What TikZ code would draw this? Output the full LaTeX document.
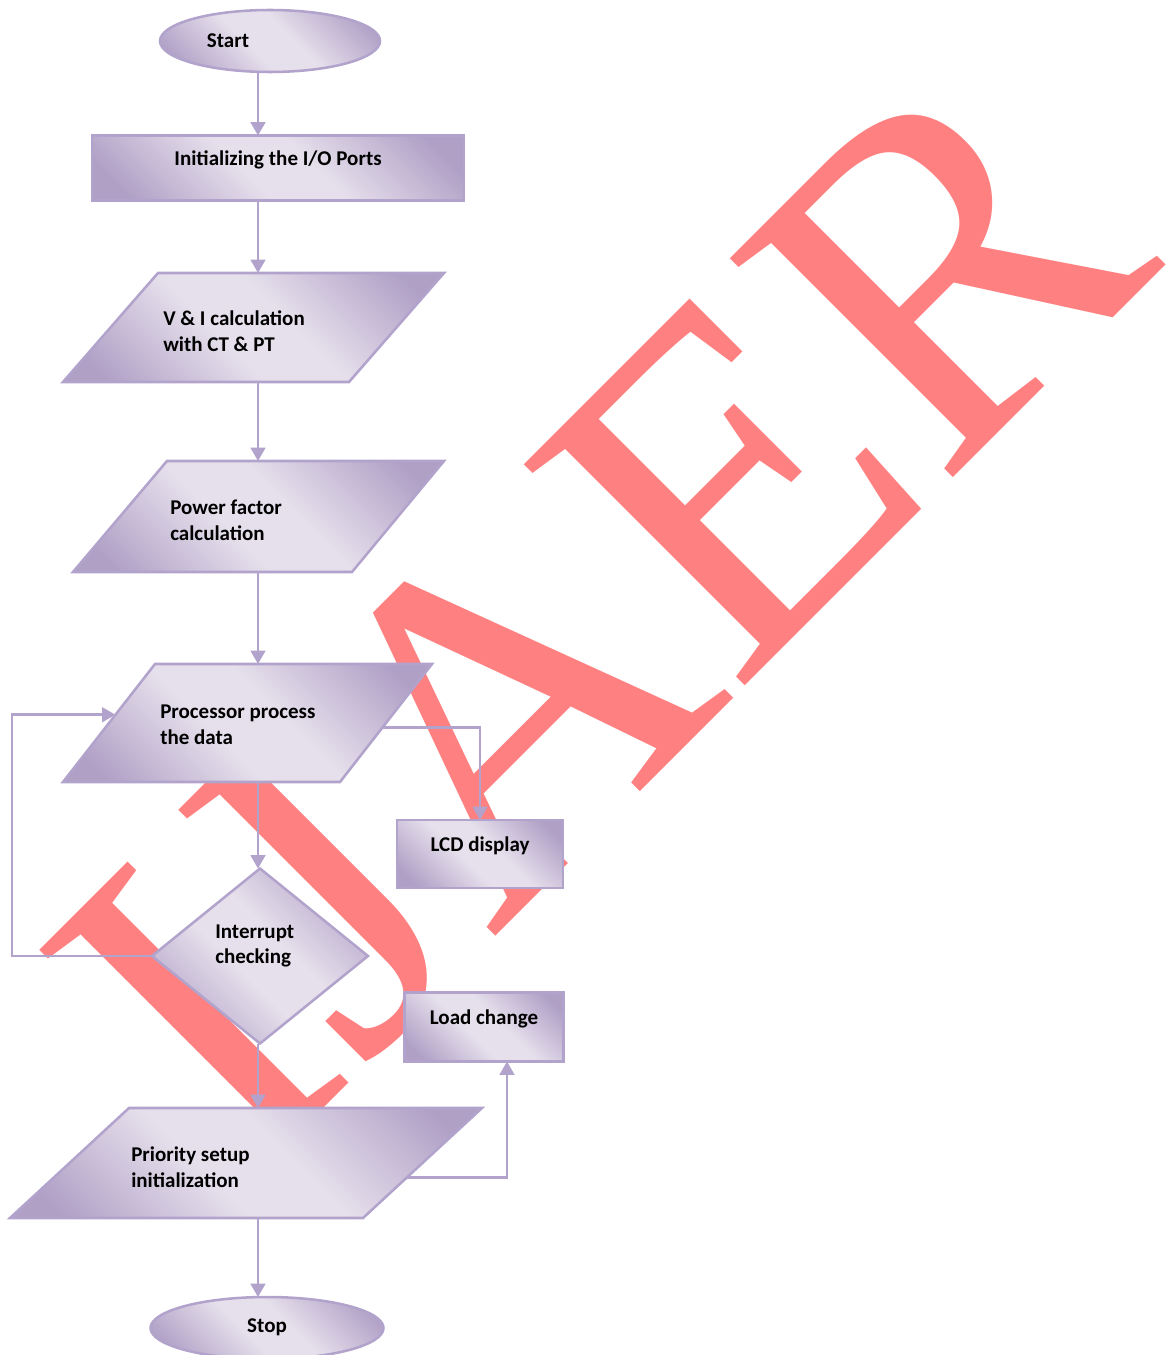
\documentclass[tikz,border=0pt]{standalone}
\usepackage{fontspec}
\setmainfont{Carlito}
\newfontfamily\wmfont{Liberation Serif}
\usetikzlibrary{shapes.geometric}
\usetikzlibrary{arrows.meta}
\usetikzlibrary{calc}
\definecolor{flowdark}{RGB}{176,160,198}
\definecolor{flowlight}{RGB}{230,224,236}
\definecolor{flowline}{RGB}{177,163,203}
\definecolor{wmred}{RGB}{255,128,128}
\pgfdeclarehorizontalshading{flowshade}{100bp}{color(0bp)=(flowdark); color(21bp)=(flowdark); color(44bp)=(flowlight); color(56bp)=(flowlight); color(79bp)=(flowdark); color(100bp)=(flowdark)}

\begin{document}
\begin{tikzpicture}[x=0.75pt,y=-0.75pt,
  blk/.style={draw=flowline,line width=1.9pt,shading=flowshade,shading angle=45,inner sep=0pt,outer sep=0pt},
  sz/.style 2 args={minimum width=.75*#1pt,minimum height=.75*#2pt},
  termbox/.style={blk,ellipse},
  rectbox/.style={blk,rectangle},
  decbox/.style={blk,diamond},
  lbl/.style={font=\bfseries\fontsize{15.75}{19.2}\selectfont,inner sep=0pt,align=left},
  flow/.style={draw=flowline,line width=1.9pt,-{Triangle[width=11pt,length=10pt]}}]
  \useasboundingbox (0,0) rectangle (1176,1355);

  % watermark behind the chart
  \node[rotate=45,text=wmred,font=\wmfont\fontsize{358}{358}\selectfont,inner sep=0pt] (wm) at (598,614) {IJAER};

  \coordinate (spine) at (258,0);
  \coordinate (loopx) at (12,0);

  \node[termbox,sz={220}{62}] (start) at (270,41) {};
  \node[rectbox,sz={372}{65}] (io) at (278,168) {};
  % parallelograms
  \path[blk] (158,273) coordinate (vi-tl) -- (444,273) coordinate (vi-tr)
    -- (349,382) coordinate (vi-br) -- (63,382) coordinate (vi-bl) -- cycle;
  \path[blk] (167,461) coordinate (pf-tl) -- (444,461) coordinate (pf-tr)
    -- (352,572) coordinate (pf-br) -- (73,572) coordinate (pf-bl) -- cycle;
  \path[blk] (155,664) coordinate (proc-tl) -- (432,664) coordinate (proc-tr)
    -- (340,782) coordinate (proc-br) -- (63,782) coordinate (proc-bl) -- cycle;
  \path[blk] (129,1108) coordinate (prio-tl) -- (482,1108) coordinate (prio-tr)
    -- (363,1218) coordinate (prio-br) -- (10,1218) coordinate (prio-bl) -- cycle;
  \node[decbox,sz={216}{175}] (dia) at (260,956) {};
  \node[rectbox,sz={166}{68}] (lcd) at (480,854) {};
  \node[rectbox,sz={159}{69}] (load) at (484,1027) {};
  \node[termbox,sz={233}{62}] (stop) at (267,1328) {};

  \node[lbl] (startT) at (228,41) {Start};
  \node[lbl] (ioT) at (278,160) {Initializing the I/O Ports};
  \node[lbl,anchor=west] (viT) at (163,331) {V \& I calculation\\with CT \& PT};
  \node[lbl,anchor=west] (pfT) at (170,520) {Power factor\\calculation};
  \node[lbl,anchor=west] (procT) at (160,725) {Processor process\\the data};
  \node[lbl,anchor=west] (diaT) at (215,946) {Interrupt\\checking};
  \node[lbl] (lcdT) at (480,846) {LCD display};
  \node[lbl] (loadT) at (484,1019) {Load change};
  \node[lbl,anchor=west] (prioT) at (131,1167) {Priority setup\\initialization};
  \node[lbl] (stopT) at (267,1327) {Stop};

  \draw[flow] (start.south -| spine) -- (io.north -| spine);
  \draw[flow] (io.south -| spine) -- (vi-tl -| spine);
  \draw[flow] (vi-bl -| spine) -- (pf-tl -| spine);
  \draw[flow] (pf-bl -| spine) -- (proc-tl -| spine);
  \draw[flow] (proc-bl -| spine) -- (dia.north -| spine);
  \draw[flow] (dia.south -| spine) -- (prio-tl -| spine);
  \draw[flow] (prio-bl -| spine) -- (stop.north -| spine);
  \draw[flow] (dia.west) -- (dia.west -| loopx) |- ($(proc-tl)!0.43!(proc-bl)$);
  \draw[flow] ($(proc-tr)!0.54!(proc-br)$) -| (lcd.north);
  \draw[flow] ($(prio-tr)!0.63!(prio-br)$) -| ($(load.south)+(23,0)$);
\end{tikzpicture}
\end{document}
